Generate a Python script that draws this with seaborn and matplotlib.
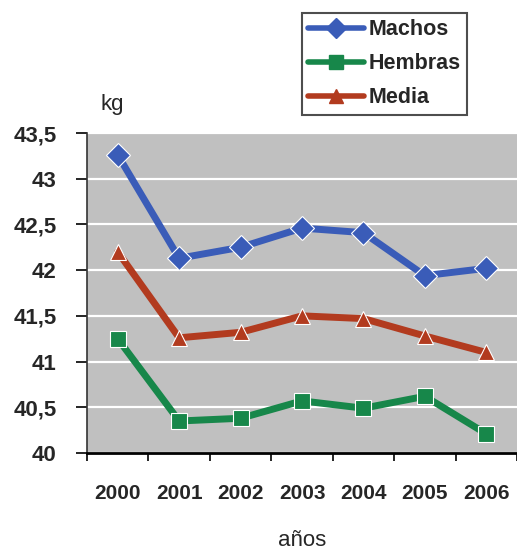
import numpy as np
import pandas as pd
from matplotlib import pyplot as plt
import seaborn as sns

# datos
years = ['2000', '2001', '2002', '2003', '2004', '2005', '2006']
machos = [43.26, 42.13, 42.25, 42.46, 42.41, 41.94, 42.02]
hembras = [41.25, 40.35, 40.38, 40.57, 40.49, 40.62, 40.21]
media = [42.20, 41.26, 41.32, 41.50, 41.47, 41.28, 41.10]
series_names = ['Machos', 'Hembras', 'Media']
y_ticks = [40, 40.5, 41, 41.5, 42, 42.5, 43, 43.5]

df = pd.DataFrame({'year': years * 3,
                   'valor': machos + hembras + media,
                   'serie': np.repeat(series_names, len(years))})
df['pos'] = np.tile(np.arange(len(years)), 3)

sns.set_style('white')
plt.rcParams['font.family'] = ['Liberation Sans', 'DejaVu Sans']
narrow = ['Liberation Sans Narrow', 'DejaVu Sans Condensed', 'Liberation Sans']

fig = plt.figure(figsize=(5.17, 5.56), dpi=100)
ax = fig.add_axes([87 / 517, 1 - 453 / 556, 430 / 517, 320 / 556])
ax.set_facecolor('#c0c0c0')

colores = {'Machos': '#3a5cb8', 'Hembras': '#17874a', 'Media': '#b23b1f'}
marcas = {'Machos': 'D', 'Hembras': 's', 'Media': '^'}

sns.lineplot(data=df, x='pos', y='valor', hue='serie', style='serie',
             hue_order=series_names, style_order=series_names,
             palette=colores, markers=marcas, dashes=False,
             linewidth=5, markersize=12, markeredgewidth=0.8,
             ax=ax, legend=False, zorder=3)

# rejilla horizontal blanca
ax.set_ylim(40, 43.5)
ax.set_yticks(y_ticks)
ax.set_yticklabels([f'{v:g}'.replace('.', ',') for v in y_ticks],
                   fontsize=16, fontweight='bold', family='Liberation Sans')
ax.yaxis.grid(True, color='white', linewidth=1.6)
ax.set_axisbelow(True)

ax.set_xlim(-0.5, len(years) - 0.5)
ax.set_xticks(np.arange(-0.5, len(years), 1.0))
ax.set_xticklabels([])
ax.set_xticks(np.arange(len(years)), minor=True)
ax.set_xticklabels(years, minor=True, fontsize=15, fontweight='bold',
                   family=narrow)
ax.tick_params(axis='x', which='major', direction='out', length=6, width=1.2, color='black', bottom=True)
ax.tick_params(axis='x', which='minor', length=0, pad=22)
ax.tick_params(axis='y', direction='out', length=8, width=1.2, color='black', left=True, pad=14)

for lado in ['top', 'right']:
    ax.spines[lado].set_visible(False)
ax.spines['left'].set_color('#333333')
ax.spines['left'].set_linewidth(1.2)
ax.spines['bottom'].set_color('black')
ax.spines['bottom'].set_linewidth(2)

ax.set_xlabel('años', fontsize=16, labelpad=20, family='Liberation Sans')
ax.set_ylabel('')
fig.text(112 / 517, 1 - 105 / 556, 'kg', fontsize=16, ha='center', va='center',
         family='Liberation Sans')

# leyenda arriba, fuera del área
handles = [plt.Line2D([], [], color=colores[s], marker=marcas[s], linewidth=4,
                      markersize=10) for s in series_names]
leg = fig.legend(handles, series_names, loc='upper left',
                 bbox_to_anchor=(302 / 517, 1 - 13 / 556), frameon=True,
                 fancybox=False, edgecolor='#222222', handlelength=2.6,
                 prop={'weight': 'bold', 'size': 15.5, 'family': 'Liberation Sans'},
                 borderpad=0.3, labelspacing=0.6, handletextpad=0.2,
                 borderaxespad=0)
leg.get_frame().set_linewidth(1.5)

fig.savefig('out.png', dpi=100)
